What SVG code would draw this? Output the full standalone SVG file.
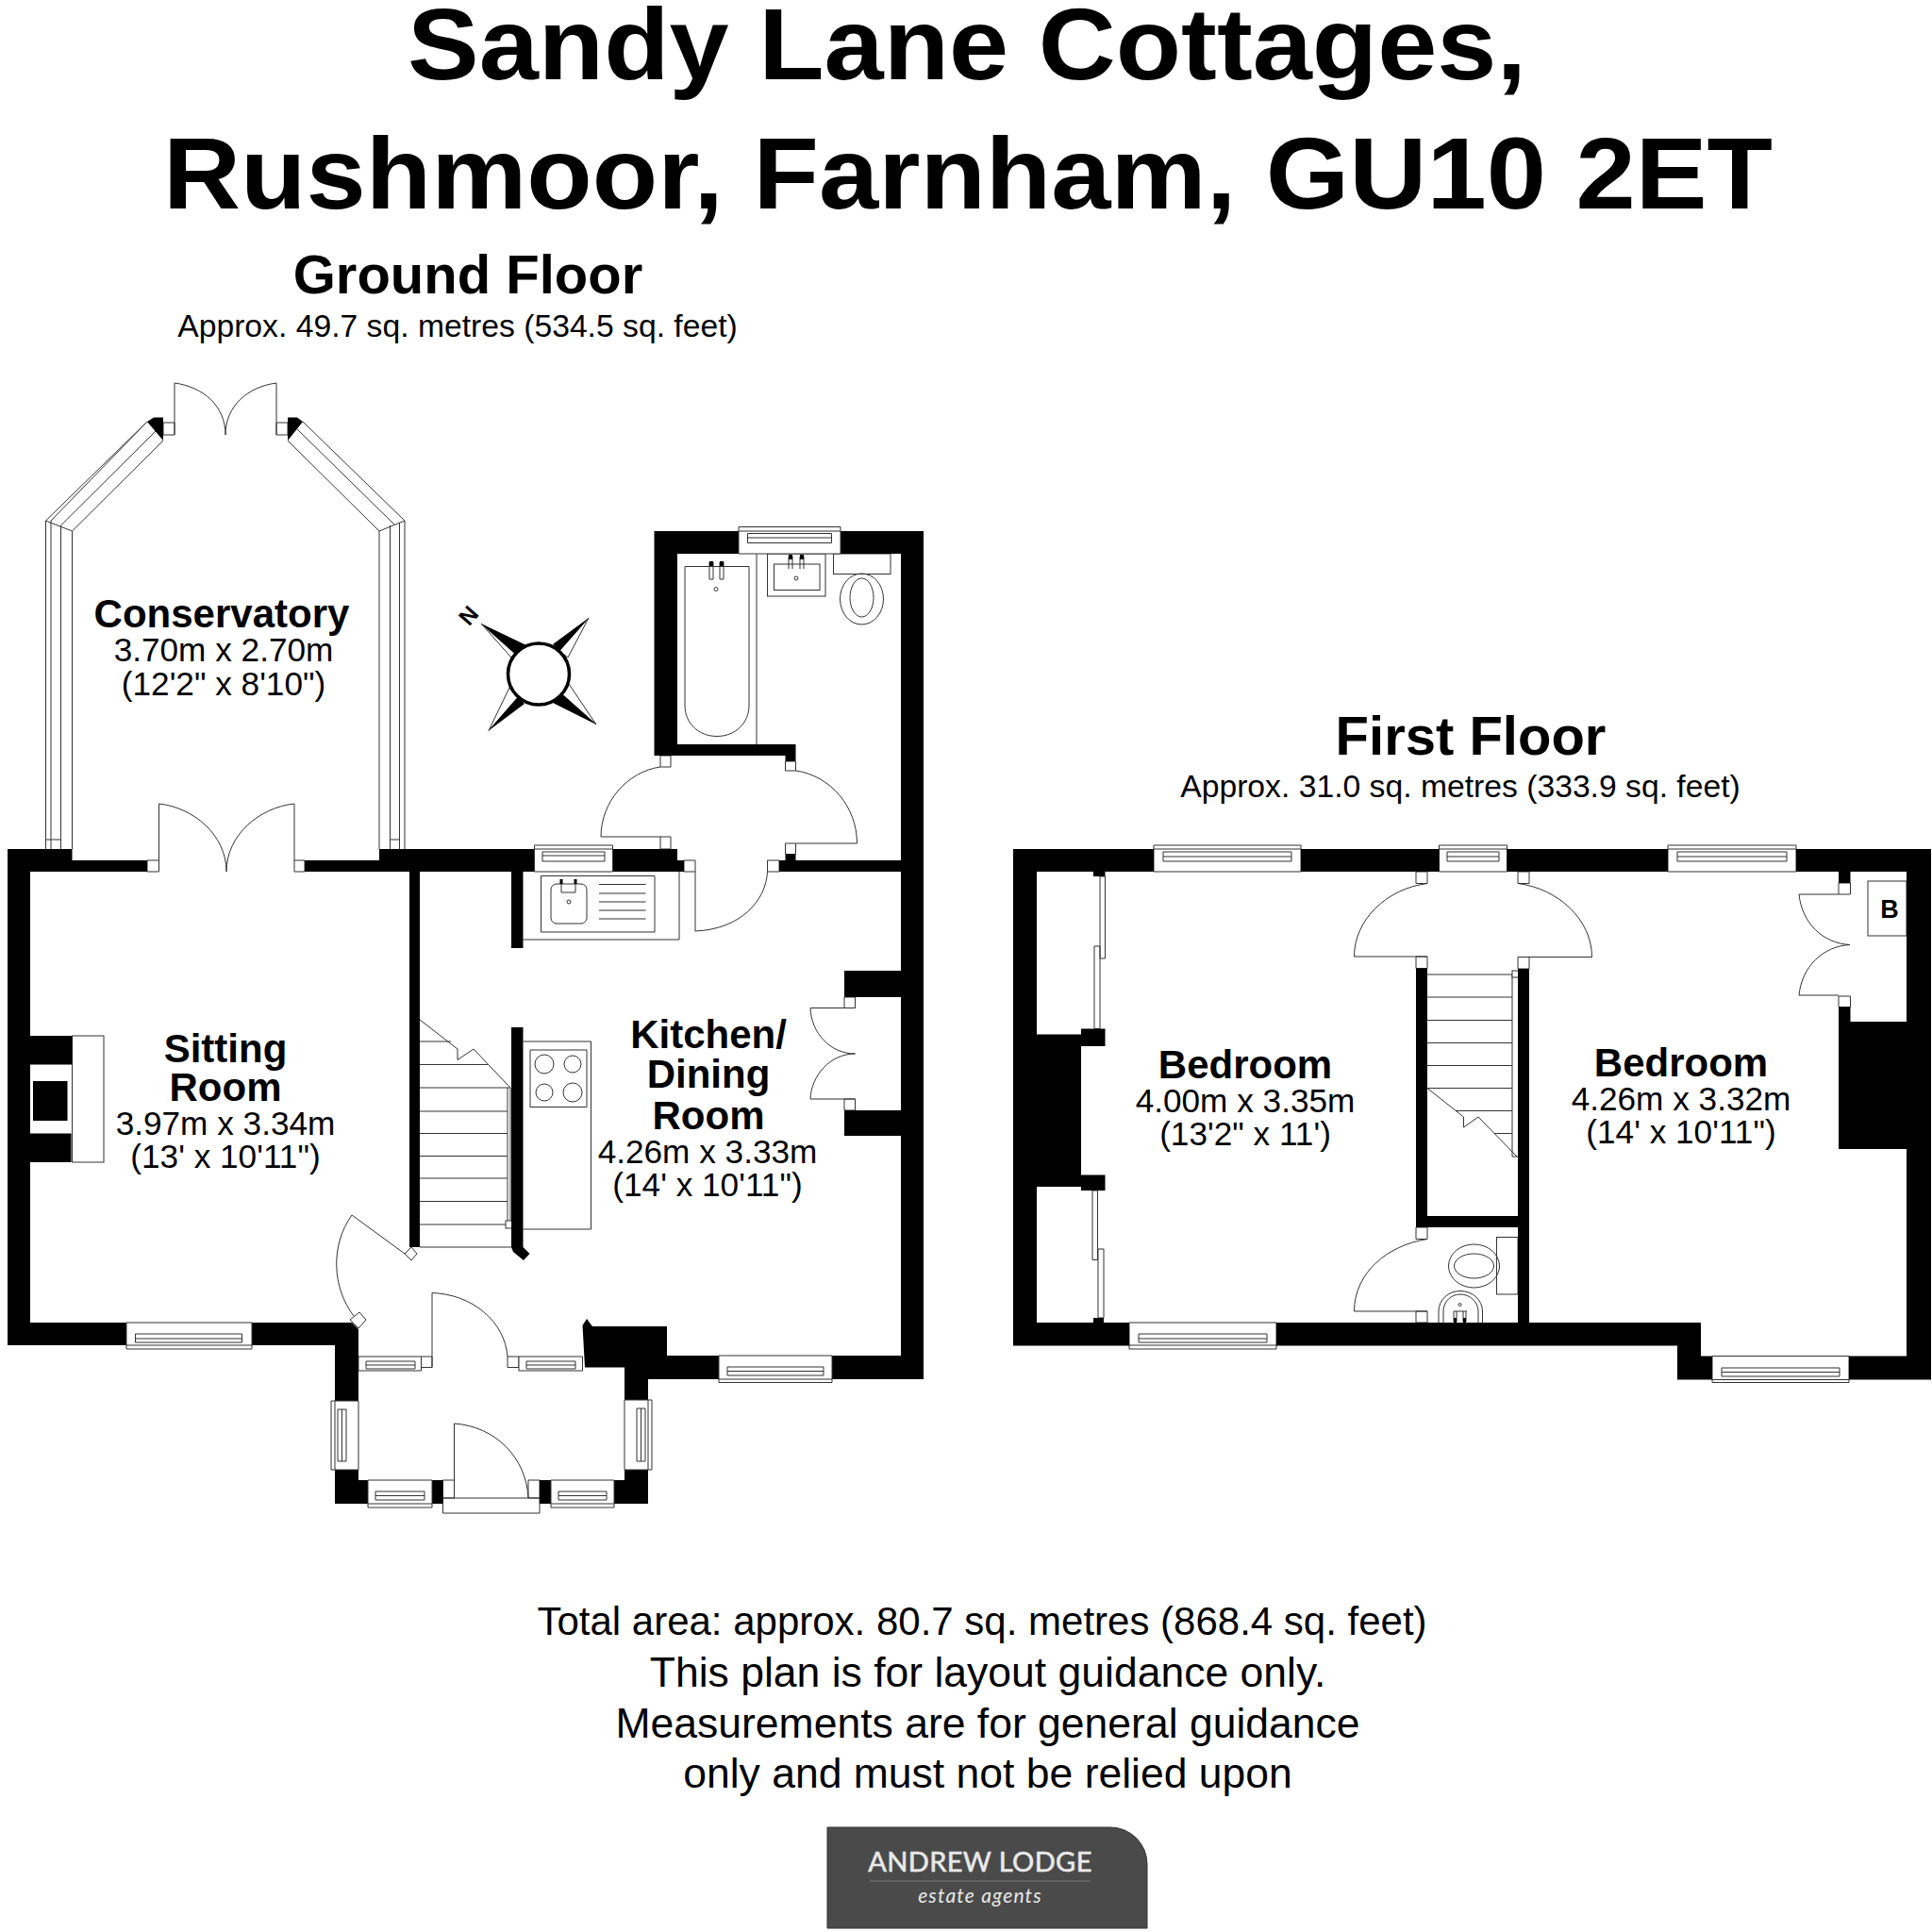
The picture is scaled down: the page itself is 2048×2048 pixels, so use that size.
<svg xmlns="http://www.w3.org/2000/svg" width="2048" height="2048" viewBox="0 0 2048 2048">
<style>
text{font-family:"Liberation Sans",Arial,sans-serif;fill:#000;text-anchor:middle}
.t{font-weight:700;font-size:108px}
.h{font-weight:700;font-size:58px}
.a{font-size:33.700px}
.n{font-weight:700;font-size:42px}
.d{font-size:35.200px}
.f{font-size:42px}
.g{font-size:44.500px}
.w{fill:#000;stroke:none}
.l{fill:none;stroke:#333;stroke-width:1}
.p{fill:#fff;stroke:#333;stroke-width:1}
</style>
<rect width="2048" height="2048" fill="#fff"/>
<g id="title">
<text class="t" x="1025" y="84" textLength="1186" lengthAdjust="spacingAndGlyphs">Sandy Lane Cottages,</text>
<text class="t" x="1026" y="221" textLength="1706" lengthAdjust="spacingAndGlyphs">Rushmoor, Farnham, GU10 2ET</text>
</g>
<g id="floor-headings">
<text class="h" x="496" y="311">Ground Floor</text>
<text class="a" x="485" y="357">Approx. 49.7 sq. metres (534.5 sq. feet)</text>
<text class="h" x="1559" y="800">First Floor</text>
<text class="a" x="1548" y="845">Approx. 31.0 sq. metres (333.9 sq. feet)</text>
</g>
<g id="ground-floor-fixtures">
<!-- conservatory glazing -->
<path class="l" d="M156 447L48.500 552V890H54V552L156 447M48.500 552L76.500 563M173 467L76.500 563V900M54 890V900M64.500 900V557L165 457M48.500 890V900M54 890H64.500V900"/>
<path class="l" d="M321 447L429 552V900M305 467L402 563V900M429 552L402 563M413.500 557V900M423.500 554V900M312 452L418 556M413.500 890H423.500"/>
<path class="p" d="M173 448H185V461H173ZM293 448H305V461H293Z"/>
<path class="l" d="M185 461V406C215 410 239 430 239 461C239 430 263 410 293 406V461"/>
<path class="w" d="M156 447L163 442.500H173V467ZM321 447L315 442.500H305V467Z"/>
<!-- sitting room french door -->
<path class="p" d="M156 912H168.500V924H156ZM312 912H323V924H312Z"/>
<path class="l" d="M168.500 912V852C205 856 240 885 240 924C240 885 275 856 312 852V912"/>
<!-- kitchen doors -->
<path class="p" d="M725 912H737V924H725ZM813.500 912H826V924H813.500Z"/>
<path class="l" d="M737 924V987C785 985 812 955 813.500 924"/>
<path class="p" d="M700 801H711V813H700ZM700 887H711V900H700ZM832.500 807H843.500V817H832.500ZM832.500 894H843.500V905.500H832.500Z"/>
<path class="l" d="M700 813C665 818 637 850 637 887H700M843.500 817C880 822 908.500 855 908.500 894H843.500"/>
<!-- cupboard -->
<path class="p" d="M895 1057H906.500V1068.500H895ZM895 1165H906.500V1177H895Z"/>
<path class="l" d="M906.500 1068.500H859C860 1095 880 1117 906.500 1117C880 1117 860 1140 859 1165H906.500"/>
<!-- sink -->
<path class="l" d="M554.500 996H720V924M573.500 928.500H694V988H573.500ZM635 937.500H684.500M635 947H684.500M635 956H684.500M635 965H684.500M635 974H684.500"/>
<rect class="l" x="584" y="937" width="38" height="42" rx="6"/>
<path class="l" d="M595 933V946H610V933"/>
<path class="w" d="M593.500 932H596.500V937H593.500ZM608.500 932H611.500V937H608.500Z"/>
<circle class="l" cx="603" cy="956" r="2"/>
<!-- hob -->
<path class="l" d="M554.500 1104H626.500V1303H554.500M562 1113H622V1173.500H562Z"/>
<circle class="l" cx="577" cy="1128" r="10"/><circle class="l" cx="607" cy="1128" r="9"/><circle class="l" cx="577" cy="1158" r="9"/><circle class="l" cx="607" cy="1158" r="10"/>
<!-- stairs -->
<path class="l" d="M445 1104H478M445 1128.500H517M445 1153H541M445 1178H538M445 1201.500H538M445 1225.500H538M445 1249H538M445 1273.500H538M445 1298H538M445 1322H542M445 1081L485 1112V1123.500L502 1112L541 1153M541 1153V1294M538 1153V1294"/>
<rect class="p" x="536" y="1294" width="8" height="8"/>
<!-- bathroom -->
<path class="l" d="M726 748V600.500H794V748C794 766 780 780.500 760 780.500S726 766 726 748ZM802 587V789"/>
<path class="l" d="M752 596H756V614H752ZM763 596H767V614H763Z"/>
<path class="w" d="M752 595H756V600H752ZM763 595H767V600H763Z"/>
<circle class="l" cx="759" cy="624.500" r="2"/>
<rect class="l" x="813.500" y="587" width="61.500" height="45"/>
<rect class="l" x="820.500" y="598" width="48.500" height="27.500"/>
<path class="l" d="M836 590V603M840 590V603M848 590V603M852 590V603"/>
<path class="w" d="M836 588H840V593H836ZM848 588H852V593H848Z"/>
<circle class="l" cx="844" cy="613" r="2"/>
<rect class="l" x="883.500" y="587" width="60.500" height="21.500"/>
<ellipse class="l" cx="913.500" cy="635" rx="23" ry="27"/>
<ellipse class="l" cx="913.500" cy="633.500" rx="12.500" ry="20.500"/>
<!-- sitting room hearth -->
<rect class="l" x="76.500" y="1098" width="33.500" height="134"/>
<!-- door sitting room -->
<path class="p" d="M436 1322L442 1329L436 1336L429 1329ZM381 1391L388 1399L380 1408L371 1399Z"/>
<path class="l" d="M429 1329L373 1288C350 1320 352 1365 375 1395"/>
<!-- porch doors -->
<path class="p" d="M446.500 1438H458V1449.500H446.500ZM538 1438H550V1449.500H538Z"/>
<path class="l" d="M458 1449.500V1370.500C500 1372 535 1400 538 1438"/>
<path class="p" d="M469.500 1569H481.500V1588H469.500ZM560 1569H572V1588H560ZM469.500 1588H572V1604H469.500Z"/>
<path class="l" d="M481.500 1588V1509C525 1512 558 1545 560 1588"/>
</g>
<g id="ground-floor-walls">
<path class="w" d="M8 900H76.500V912H156V924H32V1402H134V1426H8Z"/>
<path class="w" d="M267 1402H373L380 1409V1485H355V1426H267Z"/>
<path class="w" d="M323 912H402V900H566.500V924H323Z"/>
<path class="w" d="M649.500 900H718V912H725V924H649.500Z"/>
<path class="w" d="M826 912H832.500V905.500H843.500V912H955V587H891V563H979V1462H882V1437H955V1204H895V1177H955V1057H895V1029H955V924H826Z"/>
<path class="w" d="M693.500 563H783V587H718V789H843.500V807H832.500V801H693.500Z"/>
<path class="w" d="M434 924H445V1322H442L436 1322H434Z"/>
<path class="w" d="M542 924H554.500V1005H542ZM542 1089H554.500V1322L561.500 1329L555 1336L544 1327L542 1322Z"/>
<path class="w" d="M617.500 1405L622 1398L628 1406H707V1437H762V1462H687V1484H662V1449.500H620Z"/>
<path class="w" d="M355 1558H380V1569H390V1594H355ZM458 1569H469.500V1594H458ZM572 1569H584V1594H572ZM651 1569H662V1558H687V1594H651Z"/>
<path class="w" d="M32 1098H76.500V1128.500H32ZM32 1201.500H75.500V1232H32ZM35 1146H71.500V1188H35Z"/>
</g>
<g id="windows">
<!-- top-side -->
<path class="p" d="M783 558.500H891V587H783Z"/><path class="l" d="M783 563H891M792.500 565.500H881.500V575.500H792.500ZM792.500 570H881.500"/>
<path class="p" d="M566.500 896H649.500V924H566.500Z"/><path class="l" d="M566.500 900H649.500M575 903H641V913H575ZM575 907H641"/>
<!-- ground bottom -->
<path class="p" d="M134 1402H267V1430H134Z"/><path class="l" d="M134 1426H267M143.500 1414H256.500V1423H143.500ZM143.500 1419H256.500"/>
<path class="p" d="M380 1438H446.500V1453H380Z"/><path class="l" d="M388 1443H440V1451H388ZM388 1447H440"/>
<path class="p" d="M550 1438H617.500V1453H550Z"/><path class="l" d="M558 1443H610V1451H558ZM558 1447H610"/>
<path class="p" d="M762 1437H882V1465.500H762Z"/><path class="l" d="M762 1462H882M771 1449H873V1458H771ZM771 1453.500H873"/>
<path class="p" d="M390 1569H458V1598H390Z"/><path class="l" d="M390 1594H458M398 1581H450V1590H398ZM398 1585.500H450"/>
<path class="p" d="M584 1569H651V1598H584Z"/><path class="l" d="M584 1594H651M592 1581H643V1590H592ZM592 1585.500H643"/>
<!-- porch sides -->
<path class="p" d="M351 1485H380V1558H351Z"/><path class="l" d="M355 1485V1558M358 1494H367V1549H358ZM362.500 1494V1549"/>
<path class="p" d="M662 1484H691V1558H662Z"/><path class="l" d="M687 1484V1558M675 1493H684V1549H675ZM679.500 1493V1549"/>
<!-- first floor top -->
<path class="p" d="M1223 896H1379V924H1223Z"/><path class="l" d="M1223 900H1379M1233 903H1369V913H1233ZM1233 908H1369"/>
<path class="p" d="M1525.500 896H1597.500V924H1525.500Z"/><path class="l" d="M1525.500 900H1597.500M1534 903H1589V913H1534ZM1534 908H1589"/>
<path class="p" d="M1768 896H1904V924H1768Z"/><path class="l" d="M1768 900H1904M1778 903H1894V913H1778ZM1778 908H1894"/>
<!-- first floor bottom -->
<path class="p" d="M1197 1402H1353V1430H1197Z"/><path class="l" d="M1197 1426H1353M1207 1414H1343V1423H1207ZM1207 1419H1343"/>
<path class="p" d="M1815 1437.500H1960V1465.500H1815Z"/><path class="l" d="M1815 1462.500H1960M1825 1450H1950V1459H1825ZM1825 1454.500H1950"/>
</g>
<g id="compass">
<path class="p" d="M510 661L546 693L542 697ZM624 655L593 690L602 697ZM632 768L596 736L603 725ZM518 774.500L549 739L540 729Z"/>
<path class="w" d="M510 661L546 693L558 684ZM624 655L593 690L586 683ZM632 768L596 736L586 745ZM518 774.500L549 739L556 746Z"/>
<circle cx="571" cy="714.500" r="32.500" fill="#fff" stroke="#000" stroke-width="3.500"/>
<text x="0" y="0" transform="translate(503 658) rotate(-49)" style="font-weight:700;font-size:24px">N</text>
</g>
<g id="first-floor-fixtures">
<path class="p" d="M1166 929H1171.500V1016H1166ZM1160 1003H1166V1090.500H1160ZM1158 1262H1163.500V1335.500H1158ZM1164 1324H1170V1397H1164Z"/>
<path class="p" d="M1501 924H1513V936.500H1501ZM1609 924H1621V936.500H1609ZM1501 1014H1513V1026.500H1501ZM1609 1014.500H1621V1027H1609ZM1501 1301H1513V1313.500H1501ZM1501 1390H1513V1402H1501Z"/>
<path class="l" d="M1513 936.500C1470 942 1435.500 975 1435.500 1014H1513M1609 936.500C1652 942 1687.500 975 1687.500 1014.500H1609M1513 1313.500C1470 1320 1435.500 1350 1435.500 1390H1513"/>
<path class="l" d="M1513 1033H1603M1513 1057H1603M1513 1081.500H1603M1513 1105.500H1603M1513 1129.500H1603M1513 1153.500H1603M1543 1177.500H1603M1584 1201.500H1603M1513 1153.500L1551.500 1184V1195L1567 1184L1608 1226M1603 1033V1226H1609"/>
<rect class="p" x="1603" y="1029" width="7" height="7"/>
<rect class="l" x="1586.500" y="1311.500" width="22.500" height="60.500"/>
<ellipse class="l" cx="1562.500" cy="1342" rx="27" ry="23"/>
<ellipse class="l" cx="1562.500" cy="1342" rx="21" ry="13"/>
<path class="l" d="M1525 1402V1390C1525 1378 1535 1368.500 1548 1368.500S1571.500 1378 1571.500 1390V1402M1530 1402V1390C1530 1380 1538 1372 1548 1372S1567 1380 1567 1390V1402"/>
<path class="l" d="M1541 1390H1555M1541 1390V1401M1544 1390V1401M1551 1390V1401M1554 1390V1401"/>
<path class="w" d="M1541 1397H1544V1402H1541ZM1551 1397H1554V1402H1551Z"/>
<circle class="l" cx="1547.500" cy="1383" r="1.500"/>
<path class="p" d="M1949 936H1961.500V948H1949ZM1949 1056H1961.500V1067.500H1949Z"/>
<path class="l" d="M1949 948H1907C1910 978 1932 1000 1961 1001.500C1932 1003 1910 1025 1907 1055H1949"/>
<rect class="l" x="1980" y="934" width="41" height="58"/>
<text x="2003" y="973" style="font-weight:700;font-size:27px">B</text>
</g>
<g id="first-floor-walls">
<path class="w" d="M1074 900H1223V924H1159V929H1171.500V924H1099V1096.500H1146V1090.500H1171.500V1109H1146V1245.500H1171.500V1262H1146V1258H1099V1402H1159V1397H1170V1402H1197V1426.500H1074Z"/>
<path class="w" d="M1379 900H1525.500V924H1379ZM1597.500 900H1768V924H1597.500Z"/>
<path class="w" d="M1904 900H2047V1462.500H1960V1437.500H2021V1218H1949V1067.500H1961.500V1083H2021V924H1961.500V936H1949V924H1904Z"/>
<path class="w" d="M1353 1402H1609V1027H1621V1402H1803V1437.500H1815V1462.500H1778V1426.500H1353Z"/>
<path class="w" d="M1501 1026.500H1513V1289H1609V1301H1501Z"/>
</g>
<g id="room-labels">
<text class="n" x="235" y="665">Conservatory</text>
<text class="d" x="237" y="701">3.70m x 2.70m</text>
<text class="d" x="237" y="737">(12'2" x 8'10")</text>
<text class="n" x="239" y="1126">Sitting</text>
<text class="n" x="239" y="1167">Room</text>
<text class="d" x="239" y="1203">3.97m x 3.34m</text>
<text class="d" x="239" y="1238">(13' x 10'11")</text>
<text class="n" x="751" y="1111">Kitchen/</text>
<text class="n" x="751" y="1153">Dining</text>
<text class="n" x="751" y="1197">Room</text>
<text class="d" x="750" y="1233">4.26m x 3.33m</text>
<text class="d" x="750" y="1268">(14' x 10'11")</text>
<text class="n" x="1320" y="1143">Bedroom</text>
<text class="d" x="1320" y="1179">4.00m x 3.35m</text>
<text class="d" x="1320" y="1214">(13'2" x 11')</text>
<text class="n" x="1782" y="1141">Bedroom</text>
<text class="d" x="1782" y="1177">4.26m x 3.32m</text>
<text class="d" x="1782" y="1212">(14' x 10'11")</text>
</g>
<g id="footer">
<text class="f" x="1041" y="1733">Total area: approx. 80.7 sq. metres (868.4 sq. feet)</text>
<text class="g" x="1047" y="1788">This plan is for layout guidance only.</text>
<text class="g" x="1047" y="1842">Measurements are for general guidance</text>
<text class="g" x="1047" y="1895">only and must not be relied upon</text>
</g>
<g id="logo">
<path d="M877 1937H1177A39 39 0 0 1 1216 1976V2044H877Z" fill="#4a4a4a" stroke="#333" stroke-width="1"/>
<text x="1039" y="1984" style="font-family:Lato,sans-serif;font-size:29px;fill:#e8e8e8;stroke:#e8e8e8;stroke-width:.6px;letter-spacing:.4px">ANDREW LODGE</text>
<path d="M922 1994H1156" stroke="#6a6a6a" stroke-width="1.500"/>
<text x="1039" y="2017" style="font-family:Lato,sans-serif;font-style:italic;font-size:21px;fill:#e8e8e8;letter-spacing:1.200px">estate agents</text>
</g>
</svg>
